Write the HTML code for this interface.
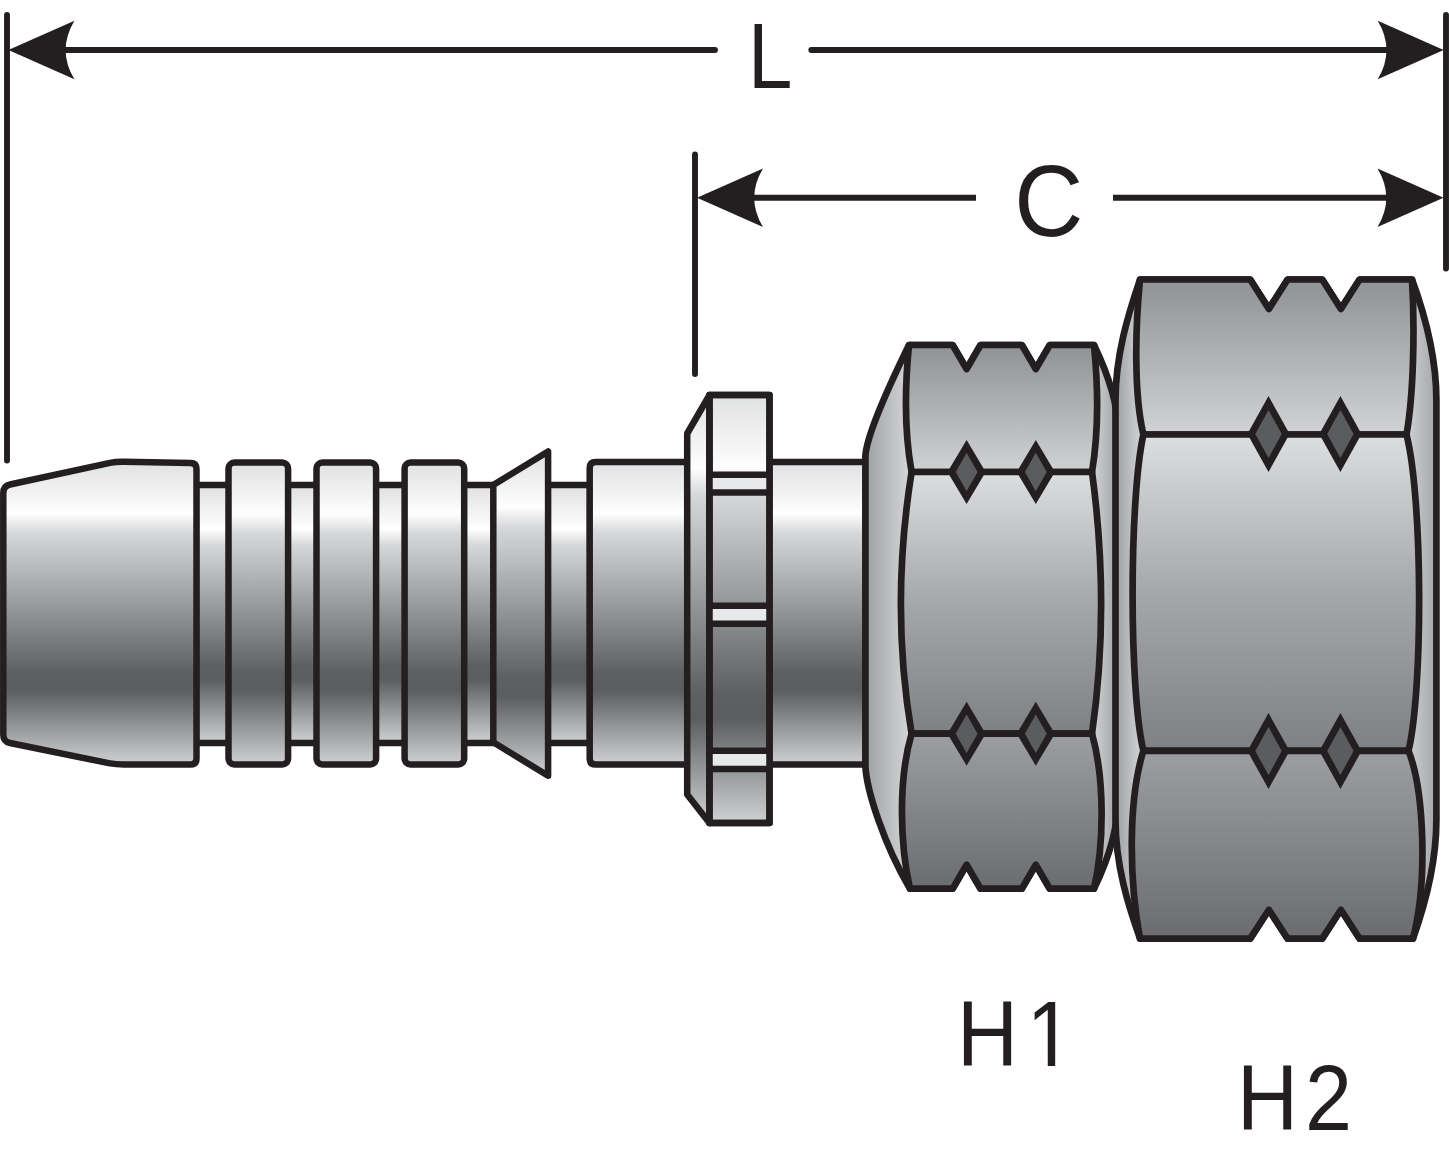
<!DOCTYPE html>
<html lang="en"><head><meta charset="utf-8"><title>Fitting L C H1 H2</title>
<style>
html,body{margin:0;padding:0;background:#fff;}
body{width:1449px;height:1151px;overflow:hidden;}
svg{display:block;}
text{font-family:"Liberation Sans",sans-serif;fill:#231f20;}
.o{stroke:#231f20;stroke-width:6.5;stroke-linejoin:round;stroke-linecap:round;}
.n{fill:none;}
.d{stroke:#231f20;stroke-width:5.9;stroke-linecap:round;fill:none;}
</style></head><body>
<svg width="1449" height="1151" viewBox="0 0 1449 1151">
<defs>
<linearGradient id="m" x1="0" y1="0" x2="0" y2="1">
<stop offset="0" stop-color="#e0e1e2"/><stop offset="0.15" stop-color="#fafafa"/><stop offset="0.17" stop-color="#ffffff"/>
<stop offset="0.235" stop-color="#d6d7d9"/><stop offset="0.70" stop-color="#5e5f61"/><stop offset="0.755" stop-color="#5c5d5f"/><stop offset="1" stop-color="#d0d1d3"/>
</linearGradient>
<linearGradient id="ch1" gradientUnits="userSpaceOnUse" x1="862" y1="0" x2="1118" y2="0">
<stop offset="0" stop-color="#9a9c9f"/><stop offset="0.18" stop-color="#d3d4d6"/>
<stop offset="0.9" stop-color="#d3d4d6"/><stop offset="1" stop-color="#9fa1a4"/>
</linearGradient>
<linearGradient id="ch2" gradientUnits="userSpaceOnUse" x1="1112" y1="0" x2="1440" y2="0">
<stop offset="0" stop-color="#96989b"/><stop offset="0.085" stop-color="#d0d1d3"/>
<stop offset="0.89" stop-color="#d6d7d9"/><stop offset="1" stop-color="#9c9ea1"/>
</linearGradient>
<linearGradient id="h1a" gradientUnits="userSpaceOnUse" x1="0" y1="345" x2="0" y2="472"><stop offset="0" stop-color="#8f9194"/><stop offset="1" stop-color="#d0d2d3"/></linearGradient>
<linearGradient id="h1b" gradientUnits="userSpaceOnUse" x1="0" y1="472" x2="0" y2="734"><stop offset="0" stop-color="#dddedf"/><stop offset="0.5" stop-color="#a5a7aa"/><stop offset="1" stop-color="#7e8083"/></linearGradient>
<linearGradient id="h1c" gradientUnits="userSpaceOnUse" x1="0" y1="734" x2="0" y2="889"><stop offset="0" stop-color="#9c9ea1"/><stop offset="1" stop-color="#6b6c6f"/></linearGradient>
<linearGradient id="h2a" gradientUnits="userSpaceOnUse" x1="0" y1="279" x2="0" y2="434"><stop offset="0" stop-color="#8f9194"/><stop offset="1" stop-color="#d0d2d3"/></linearGradient>
<linearGradient id="h2b" gradientUnits="userSpaceOnUse" x1="0" y1="434" x2="0" y2="751"><stop offset="0" stop-color="#dddedf"/><stop offset="0.5" stop-color="#a5a7aa"/><stop offset="1" stop-color="#7e8083"/></linearGradient>
<linearGradient id="h2c" gradientUnits="userSpaceOnUse" x1="0" y1="751" x2="0" y2="939"><stop offset="0" stop-color="#9c9ea1"/><stop offset="1" stop-color="#6b6c6f"/></linearGradient>
</defs>

<g class="o">
<rect x="196" y="485" width="394" height="258" fill="url(#m)"/>
<path fill="url(#m)" d="M3.3 493 Q3.3 486 10 484.5 L110 462.9 Q116 461.6 124 461.8 L190.5 463 Q196.5 463 196.5 469 L196.5 758.5 Q196.5 764.5 190.5 764.5 L124 764.5 Q116 764.5 110 763.4 L10 743 Q3.3 741.5 3.3 735 Z"/>
<rect x="228.5" y="462.6" width="59.6" height="301.8" rx="6" ry="6" fill="url(#m)"/>
<rect x="316.5" y="462.6" width="59.6" height="301.8" rx="6" ry="6" fill="url(#m)"/>
<rect x="404.6" y="462.6" width="59.6" height="301.8" rx="6" ry="6" fill="url(#m)"/>
<path fill="url(#m)" d="M493.3 485 L548.1 451.5 L548.1 775.8 L493.3 742.3 Z"/>
<path fill="url(#m)" d="M866 462 L595.7 462 Q589.7 462 589.7 468 L589.7 758.6 Q589.7 764.6 595.7 764.6 L866 764.6 Z"/>
<path fill="url(#m)" d="M709.5 395 L687.2 433.5 L687.2 794.5 L709.5 823 Z"/>
<rect x="709.5" y="395" width="60" height="428" fill="url(#m)"/>
<rect x="709.5" y="474.8" width="60" height="17.8" fill="#e8e9ea" stroke="none"/>
<path class="n" stroke-linecap="butt" d="M709.5 474.8 H769.5 M709.5 492.6 H769.5"/>
<rect x="709.5" y="605.8" width="60" height="18.0" fill="#e8e9ea" stroke="none"/>
<path class="n" stroke-linecap="butt" d="M709.5 605.8 H769.5 M709.5 623.8 H769.5"/>
<rect x="709.5" y="750.7" width="60" height="18.3" fill="#e8e9ea" stroke="none"/>
<path class="n" stroke-linecap="butt" d="M709.5 750.7 H769.5 M709.5 769 H769.5"/>
<rect class="n" x="709.5" y="395" width="60" height="428"/>
</g>
<g class="o" style="stroke-width:6.7">
<path fill="url(#ch1)" d="M909 345 L952.6 345 L966.6 369 L980.6 345 L1021.8 345 L1035.8 369 L1049.8 345 L1094 345 C1106 370 1118 400 1118 430 L1118 800 C1118 830 1108 860 1094 888.7 L1049.8 888.7 L1035.8 864.8 L1021.8 888.7 L980.6 888.7 L966.6 864.8 L952.6 888.7 L910 888.7 C884 845 866.5 790 865.4 766 L865.4 456 C866.5 436 886 392 909 345 Z"/>
<path fill="url(#h1a)" d="M909 345 L952.6 345 L966.6 369 L980.6 345 L1021.8 345 L1035.8 369 L1049.8 345 L1094 345 C1098 385 1099 430 1092 472 L911.6 472 C904 430 905 385 909 345 Z"/>
<path fill="url(#h1b)" d="M911.6 472 L1092 472 C1104 560 1104 650 1092 733.7 L911.6 733.7 C897.5 650 897.5 560 911.6 472 Z"/>
<path fill="url(#h1c)" d="M911.6 733.7 L1092 733.7 C1105 780 1104 845 1094 888.7 L1049.8 888.7 L1035.8 864.8 L1021.8 888.7 L980.6 888.7 L966.6 864.8 L952.6 888.7 L910 888.7 C900 845 898 780 911.6 733.7 Z"/>
</g>
<polygon points="966.6,440 985.7,472 966.6,504 947.5,472" fill="#231f20"/><polygon points="966.6,452.8 977.5,472 966.6,491.2 955.7,472" fill="#5b5c5e"/>
<polygon points="966.6,701.7 985.7,733.7 966.6,765.7 947.5,733.7" fill="#231f20"/><polygon points="966.6,714.5 977.5,733.7 966.6,752.9 955.7,733.7" fill="#5b5c5e"/>
<polygon points="1035.8,440 1054.9,472 1035.8,504 1016.7,472" fill="#231f20"/><polygon points="1035.8,452.8 1046.7,472 1035.8,491.2 1024.9,472" fill="#5b5c5e"/>
<polygon points="1035.8,701.7 1054.9,733.7 1035.8,765.7 1016.7,733.7" fill="#231f20"/><polygon points="1035.8,714.5 1046.7,733.7 1035.8,752.9 1024.9,733.7" fill="#5b5c5e"/>
<g class="o" style="stroke-width:6.7">
<path fill="url(#ch2)" d="M1140 279.5 L1250.2 279.5 L1268.9 308.9 L1287.6 279.5 L1322.2 279.5 L1340.9 308.9 L1359.6 279.5 L1412 279.5 C1425 315 1436.4 355 1436.4 400 L1436.4 820 C1436.4 865 1425 905 1413 938.6 L1359.6 938.6 L1340.9 909.8 L1322.2 938.6 L1287.6 938.6 L1268.9 909.8 L1250.2 938.6 L1140 938.6 C1128 905 1115.5 865 1115.5 820 L1115.5 400 C1115.5 355 1128 315 1140 279.5 Z"/>
<path fill="url(#h2a)" d="M1140 279.5 L1250.2 279.5 L1268.9 308.9 L1287.6 279.5 L1322.2 279.5 L1340.9 308.9 L1359.6 279.5 L1412 279.5 C1415 330 1413.5 395 1406.5 434.5 L1143.4 434.5 C1134 395 1135 330 1140 279.5 Z"/>
<path fill="url(#h2b)" d="M1143.4 434.5 L1406.5 434.5 C1423 500 1423 690 1408.5 750.8 L1143.4 750.8 C1129 690 1129 500 1143.4 434.5 Z"/>
<path fill="url(#h2c)" d="M1143.4 750.8 L1408.5 750.8 C1424 790 1428 880 1413 938.6 L1359.6 938.6 L1340.9 909.8 L1322.2 938.6 L1287.6 938.6 L1268.9 909.8 L1250.2 938.6 L1140 938.6 C1129 880 1128 800 1143.4 750.8 Z"/>
</g>
<polygon points="1268.5,396 1289.6,434 1268.5,472 1247.4,434" fill="#231f20"/><polygon points="1268.5,410 1281.7,434 1268.5,458 1255.3,434" fill="#5b5c5e"/>
<polygon points="1268.5,713 1289.6,751 1268.5,789 1247.4,751" fill="#231f20"/><polygon points="1268.5,727 1281.7,751 1268.5,775 1255.3,751" fill="#5b5c5e"/>
<polygon points="1340.4,396 1361.5,434 1340.4,472 1319.3,434" fill="#231f20"/><polygon points="1340.4,410 1353.6,434 1340.4,458 1327.2,434" fill="#5b5c5e"/>
<polygon points="1340.4,713 1361.5,751 1340.4,789 1319.3,751" fill="#231f20"/><polygon points="1340.4,727 1353.6,751 1340.4,775 1327.2,751" fill="#5b5c5e"/>
<g class="d">
<line x1="7" y1="15" x2="7" y2="460.5"/>
<line x1="1446" y1="15" x2="1446" y2="268.5"/>
<line x1="695" y1="154.5" x2="695" y2="374"/>
<line x1="60" y1="50" x2="715" y2="50"/>
<line x1="811.3" y1="50" x2="1390" y2="50"/>
<line x1="750" y1="197.8" x2="976" y2="197.8" stroke-linecap="butt"/>
<line x1="1113" y1="197.8" x2="1390" y2="197.8" stroke-linecap="butt"/>
</g>
<path fill="#231f20" d="M8.4 50 L74.4 20.7 Q56.8 50 74.4 79.3 Z"/>
<path fill="#231f20" d="M1443.7 50 L1377.7 20.7 Q1395.3 50 1377.7 79.3 Z"/>
<path fill="#231f20" d="M697 197.8 L763 168.5 Q745.4 197.8 763 227.1 Z"/>
<path fill="#231f20" d="M1443.5 197.8 L1377.5 168.5 Q1395.1 197.8 1377.5 227.1 Z"/>
<text transform="translate(747.9 87.8) scale(0.865 1)" font-size="92.3">L</text>
<text transform="translate(1014.3 236.0) scale(0.943 1)" font-size="101.3">C</text>
<clipPath id="c1"><path d="M940 980 H1022 V1090 H940 Z M1022 980 H1080 V1058.6 H1022 Z M1047.75 1058 H1055.2 V1080 H1047.75 Z"/></clipPath>
<g clip-path="url(#c1)"><text transform="translate(957.0 1066.3) scale(0.915 1)" font-size="92.3" x="0 75.96">H1</text></g>
<text transform="translate(1237.0 1130.2) scale(0.915 1)" font-size="92.3" x="0 74.21">H2</text>
</svg></body></html>
